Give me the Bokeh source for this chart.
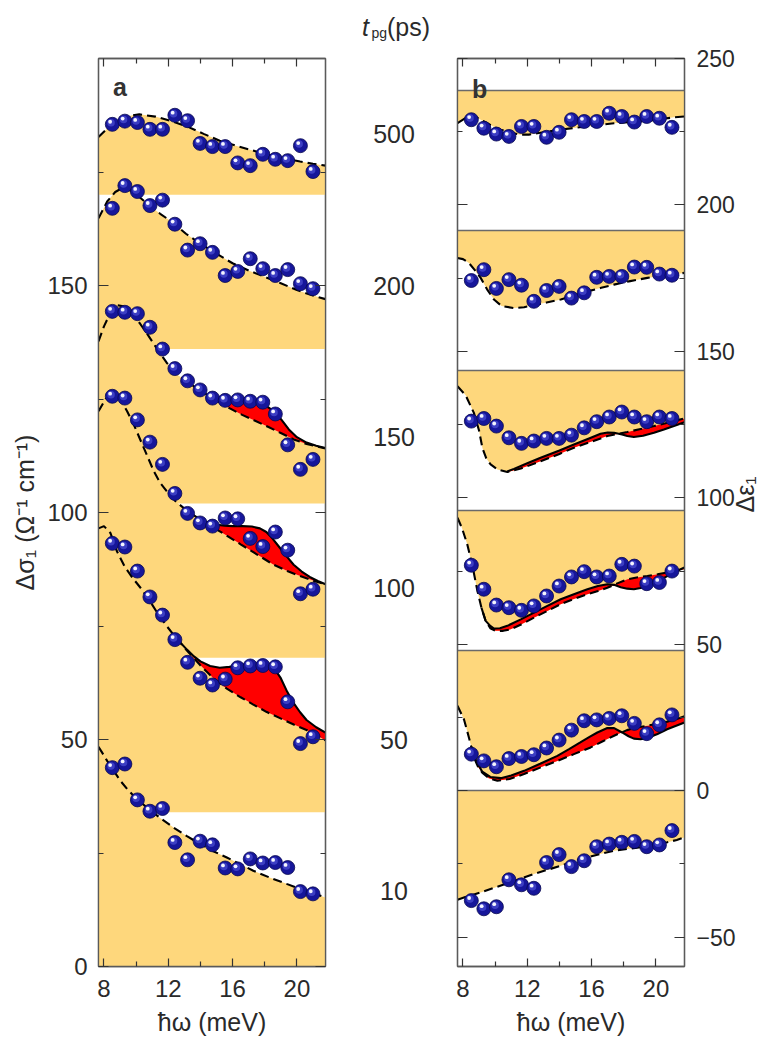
import math
import numpy as np
from bokeh.plotting import figure
from bokeh.models import Range1d, LinearAxis, FixedTicker
from bokeh.layouts import row, column
from bokeh.embed import file_html
from bokeh.resources import INLINE
from bokeh.core.properties import value

FONT = "Liberation Sans"
TEXT = "#2a2a2a"
FRAME = "#5a5a5a"
TICK = "#333333"
ORANGE = "#FED77C"
RED = "#FF0000"
BALL = "#16169a"

# ---------------------------------------------------------------- data
# photon energies of the measured THz spectra (meV)
energy = [8.52, 9.30, 10.08, 10.86, 11.64, 12.41, 13.20, 13.98, 14.75,
          15.54, 16.32, 17.10, 17.88, 18.66, 19.43, 20.22, 21.00]

# pump-gate delays t_pg (ps), top to bottom
delays = ["500", "200", "150", "100", "50", "10"]
delay_label_y = [183.3, 150.0, 116.7, 83.3, 50.0, 16.7]

# vertical offsets used to stack the spectra
sigma_offsets = [170, 136, 102, 68, 34, 0]
eps_offsets = [239.0, 191.2, 143.4, 95.6, 47.8, 0.0]

# measured change of the real conductivity, Delta sigma_1 (Ohm^-1 cm^-1)
sigma_500 = [15.5, 16.2, 15.9, 14.4, 14.4, 17.5, 16.3, 11.3, 10.6, 10.6, 7.0, 6.4, 8.9, 7.8, 7.5, 10.8, 5.1]
sigma_200 = [31.0, 36.0, 34.7, 31.6, 32.8, 27.5, 21.8, 23.2, 21.3, 16.2, 17.1, 19.9, 17.7, 16.2, 17.5, 14.4, 13.3]
sigma_150 = [42.3, 42.1, 41.8, 38.8, 34.0, 29.7, 27.0, 25.0, 23.2, 22.7, 22.8, 22.5, 22.3, 19.7, 12.9, 7.5, 9.7]
sigma_100 = [57.6, 57.2, 52.4, 47.5, 42.6, 36.2, 31.8, 29.7, 29.0, 30.8, 30.6, 26.3, 24.5, 27.7, 23.7, 14.1, 15.1]
sigma_50 = [59.2, 58.4, 53.1, 47.4, 43.4, 38.0, 33.0, 29.5, 28.0, 29.3, 31.8, 32.2, 32.3, 32.0, 24.3, 15.1, 16.6]
sigma_10 = [43.8, 44.6, 36.7, 34.2, 34.8, 27.3, 23.5, 27.6, 26.8, 21.7, 21.5, 23.7, 22.8, 22.9, 21.8, 16.5, 16.0]

# measured change of the real permittivity, Delta epsilon_1
eps_500 = [-9.9, -12.8, -14.8, -15.6, -12.2, -12.2, -15.9, -14.2, -9.9, -10.5, -10.5, -7.7, -8.8, -10.7, -8.8, -9.4, -12.5]
eps_200 = [-17.0, -13.3, -19.7, -16.7, -18.6, -24.1, -20.4, -19.0, -23.0, -21.2, -15.9, -15.6, -15.6, -12.4, -12.5, -14.8, -15.2]
eps_150 = [-17.2, -16.3, -18.9, -22.9, -24.8, -24.0, -23.1, -23.1, -22.0, -19.5, -17.4, -15.8, -14.1, -15.8, -17.4, -15.8, -16.3]
eps_100 = [-18.6, -26.8, -32.2, -33.1, -34.0, -32.5, -29.1, -25.7, -22.6, -20.8, -22.6, -22.3, -18.3, -18.9, -24.9, -24.5, -20.6]
eps_50 = [-35.3, -37.6, -39.6, -36.8, -36.1, -35.5, -33.2, -30.5, -27.1, -23.9, -23.6, -23.1, -22.2, -24.8, -28.3, -25.3, -21.9]
eps_10 = [-37.5, -40.3, -39.6, -30.4, -32.1, -33.3, -24.5, -21.8, -25.9, -23.9, -19.1, -18.2, -17.6, -17.3, -19.1, -18.5, -13.6]

# Drude-type fits (dashed) of Delta sigma_1
sig_fit_x_500 = [7.66, 8.5, 9.3, 10.2, 11.2, 12.2, 13.2, 14.2, 15.2, 16.2, 17.2, 18.2, 19.2, 20.2, 21.0, 21.78]
sig_fit_500 = [12.7, 15.6, 17.2, 17.7, 17.2, 16.2, 15.0, 13.4, 11.9, 10.8, 9.8, 8.8, 8.0, 7.3, 6.8, 6.4]
sig_fit_x_200 = [7.66, 8.2, 8.7, 9.1, 9.6, 10.2, 10.8, 11.5, 12.3, 13.1, 14.0, 15.0, 16.0, 17.0, 18.0, 19.0, 20.0, 21.0, 21.78]
sig_fit_200 = [28.8, 32.5, 34.6, 35.4, 35.0, 33.5, 31.7, 29.8, 27.8, 25.4, 23.2, 21.0, 18.9, 17.3, 15.9, 14.5, 13.0, 11.8, 11.0]
sig_fit_x_150 = [7.66, 8.0, 8.4, 8.8, 9.2, 9.7, 10.2, 10.7, 11.2, 11.9, 12.6, 13.4, 14.2, 15.0, 15.8, 16.6, 17.4, 18.2, 19.0, 19.8, 20.6, 21.78]
sig_fit_150 = [35.7, 39.0, 42.0, 43.7, 43.4, 42.0, 39.8, 37.3, 34.6, 31.0, 28.3, 26.2, 24.4, 22.7, 21.0, 19.5, 18.2, 16.9, 15.5, 14.1, 13.1, 12.1]
sig_fit_x_100 = [7.66, 8.1, 8.6, 9.0, 9.44, 9.9, 10.3, 10.7, 11.1, 11.5, 11.9, 12.5, 13.2, 14.0, 14.8, 15.6, 16.5, 17.5, 18.5, 19.4, 20.2, 21.0, 21.78]
sig_fit_100 = [54.3, 57.0, 58.0, 57.0, 54.3, 51.0, 47.7, 44.4, 41.1, 38.5, 36.7, 34.3, 32.3, 30.4, 28.7, 27.0, 25.0, 22.8, 20.6, 19.1, 18.0, 17.0, 16.2]
sig_fit_x_50 = [7.66, 8.0, 8.4, 8.8, 9.3, 9.8, 10.3, 10.8, 11.3, 11.9, 12.5, 13.16, 13.98, 14.8, 15.64, 16.5, 17.29, 18.1, 18.95, 19.8, 20.6, 21.2, 21.78]
sig_fit_50 = [62.5, 63.0, 61.5, 57.5, 54.0, 51.5, 49.3, 46.8, 44.0, 41.0, 38.3, 35.6, 32.4, 29.5, 27.2, 25.3, 23.7, 22.1, 20.7, 19.3, 18.1, 17.0, 15.8]
sig_fit_x_10 = [7.66, 8.2, 8.61, 9.0, 9.44, 10.0, 10.68, 11.5, 12.33, 13.16, 13.98, 14.8, 15.64, 16.5, 17.29, 18.3, 19.36, 20.5, 21.78]
sig_fit_10 = [48.4, 45.3, 43.1, 41.0, 39.1, 37.0, 35.0, 32.7, 30.6, 28.7, 27.0, 25.4, 24.0, 22.5, 21.1, 19.6, 18.2, 16.7, 15.2]

# fits including the phonon-polariton resonance (solid)
sig_ph_x_150 = [15.0, 15.4, 16.0, 16.6, 17.2, 17.8, 18.2, 18.6, 19.0, 19.5, 20.0, 20.6, 21.2, 21.78]
sig_ph_150 = [22.7, 22.8, 22.6, 22.5, 22.2, 21.8, 21.2, 20.2, 18.6, 16.3, 14.6, 13.4, 12.7, 12.2]
sig_ph_x_100 = [14.0, 14.5, 15.0, 15.5, 16.0, 16.6, 17.2, 17.7, 18.1, 18.5, 18.9, 19.3, 19.8, 20.3, 20.8, 21.3, 21.78]
sig_ph_100 = [30.4, 29.8, 29.3, 29.1, 29.0, 29.0, 28.9, 28.5, 27.7, 26.2, 24.4, 22.6, 20.5, 19.0, 17.8, 16.9, 16.2]
sig_ph_x_50 = [12.5, 13.16, 13.6, 14.0, 14.6, 15.2, 15.8, 16.4, 17.0, 17.6, 18.2, 18.6, 19.0, 19.4, 19.8, 20.2, 20.6, 21.2, 21.78]
sig_ph_50 = [38.3, 35.8, 34.3, 33.2, 32.2, 31.8, 32.0, 32.3, 32.6, 32.7, 32.5, 31.6, 29.5, 26.5, 24.0, 22.0, 20.3, 18.7, 17.5]

# Drude-type fits (dashed) of Delta epsilon_1
eps_fit_x_500 = [7.66, 8.1, 8.48, 8.9, 9.31, 9.8, 10.34, 11.0, 11.59, 12.1, 12.63, 13.3, 14.08, 14.9, 15.74, 16.6, 17.39, 18.4, 19.47, 20.3, 21.12, 21.78]
eps_fit_500 = [-11.1, -9.5, -8.8, -9.3, -10.5, -12.0, -13.3, -14.4, -15.0, -15.0, -14.5, -13.9, -13.3, -12.7, -12.2, -11.6, -11.1, -10.7, -10.3, -9.7, -9.1, -8.8]
eps_fit_x_200 = [7.66, 8.0, 8.37, 8.7, 9.1, 9.5, 9.93, 10.4, 11.17, 11.8, 12.42, 13.2, 14.08, 14.9, 15.74, 16.6, 17.39, 18.4, 19.47, 20.6, 21.78]
eps_fit_200 = [-9.3, -9.7, -11.0, -13.2, -16.1, -20.0, -23.5, -25.7, -26.4, -26.1, -25.4, -24.5, -23.5, -22.1, -20.7, -19.5, -18.4, -17.2, -16.1, -15.2, -14.4]
eps_fit_x_150 = [7.66, 8.17, 8.68, 9.0, 9.21, 9.45, 9.72, 10.14, 10.76, 11.6, 12.83, 14.0, 14.9, 16.0, 16.98, 18.22, 19.05, 19.88, 21.12, 21.78]
eps_fit_150 = [-5.3, -8.4, -14.4, -20.4, -26.4, -29.9, -32.0, -33.7, -34.6, -33.4, -30.9, -28.4, -26.3, -24.2, -22.3, -20.9, -19.9, -18.9, -17.2, -16.3]
eps_fit_x_100 = [7.66, 7.95, 8.27, 8.6, 8.9, 9.15, 9.41, 9.7, 10.03, 10.5, 10.97, 11.7, 12.42, 13.25, 14.08, 14.9, 15.74, 16.4, 16.98, 17.6, 18.22, 18.8, 19.47, 20.1, 20.71, 21.78]
eps_fit_100 = [-2.4, -6.1, -11.5, -19.1, -27.4, -33.1, -37.6, -40.1, -41.0, -41.0, -40.5, -38.6, -36.5, -34.2, -31.9, -30.1, -28.5, -27.4, -26.3, -24.8, -23.4, -22.8, -22.3, -21.7, -21.1, -20.0]
eps_fit_x_50 = [7.66, 8.06, 8.37, 8.68, 8.95, 9.2, 9.6, 10.14, 10.9, 11.8, 12.8, 13.87, 14.9, 15.94, 16.7, 17.4, 18.2, 18.8, 19.47, 20.1, 20.71, 21.3, 21.78]
eps_fit_50 = [-18.8, -23.4, -29.6, -36.4, -39.8, -41.6, -43.5, -44.4, -43.8, -42.1, -39.9, -37.6, -35.3, -33.0, -30.9, -29.0, -27.1, -26.2, -25.6, -24.9, -24.2, -23.3, -22.4]
eps_fit_x_10 = [7.66, 8.2, 9.1, 10.0, 10.76, 11.6, 12.42, 13.25, 14.08, 14.9, 15.74, 16.6, 17.39, 18.2, 19.05, 19.9, 20.71, 21.3, 21.78]
eps_fit_10 = [-37.2, -36.2, -34.7, -33.0, -31.6, -30.0, -28.4, -27.0, -25.6, -24.1, -22.7, -21.5, -20.5, -19.9, -19.3, -18.5, -17.6, -16.8, -15.9]

eps_ph_x_150 = [10.76, 11.17, 12.0, 12.83, 14.0, 14.9, 15.8, 16.56, 17.0, 17.4, 17.9, 18.22, 18.63, 19.2, 19.88, 20.5, 21.12, 21.78]
eps_ph_150 = [-34.4, -33.5, -31.6, -29.7, -27.2, -25.2, -23.2, -21.5, -21.1, -21.2, -21.8, -22.3, -22.6, -22.2, -21.2, -20.1, -18.9, -17.6]
eps_ph_x_100 = [9.15, 9.41, 9.7, 9.93, 10.3, 10.76, 11.6, 12.42, 13.25, 14.08, 14.9, 15.74, 16.4, 16.98, 17.4, 17.81, 18.22, 18.63, 19.05, 19.47, 20.1, 20.71, 21.2, 21.78]
eps_ph_100 = [-33.1, -37.6, -39.3, -40.2, -40.1, -39.3, -37.1, -34.8, -32.5, -30.2, -28.5, -26.8, -25.7, -25.1, -25.3, -26.1, -26.6, -26.8, -26.4, -25.7, -24.1, -22.3, -20.8, -19.4]
eps_ph_x_50 = [8.55, 8.8, 9.2, 9.7, 10.35, 11.0, 11.8, 12.8, 13.87, 14.6, 15.3, 15.9, 16.36, 16.98, 17.4, 17.9, 18.3, 18.63, 19.05, 19.47, 20.1, 20.7, 21.3, 21.78]
eps_ph_50 = [-32.8, -37.3, -41.3, -43.1, -43.5, -42.6, -41.0, -38.6, -35.9, -33.6, -31.3, -29.3, -27.9, -26.4, -26.4, -27.9, -29.2, -30.0, -30.2, -29.8, -28.4, -26.8, -25.5, -24.5]

energy_ticks = [8, 12, 16, 20]
energy_minor = [10, 14, 18]
sigma_ticks = [0, 50, 100, 150]
sigma_minor = [25, 75, 125, 175]
eps_ticks = [-50, 0, 50, 100, 150, 200, 250]
eps_minor = [-25, 25, 75, 125, 175, 225]

X_RANGE = (7.66, 21.78)
FRAME_W, FRAME_H = 227, 908
BORDER_TOP, BORDER_BOTTOM = 58, 71
PAGE_H = BORDER_TOP + FRAME_H + BORDER_BOTTOM
SIGMA_PER_PX = 200 / FRAME_H


# ---------------------------------------------------------------- helpers
def make_axis(ticks, minor, major_in, minor_in, labelled, label=None, size="24px"):
    ax = LinearAxis(ticker=FixedTicker(ticks=ticks, minor_ticks=minor))
    ax.major_tick_in = major_in
    ax.major_tick_out = 0
    ax.minor_tick_in = minor_in
    ax.minor_tick_out = 0
    ax.axis_line_color = FRAME
    ax.axis_line_width = 1.3
    ax.major_tick_line_color = TICK
    ax.minor_tick_line_color = TICK
    ax.major_tick_line_width = 1.2
    ax.minor_tick_line_width = 1.2
    ax.major_label_text_font = FONT
    ax.major_label_text_font_size = size
    ax.major_label_text_color = TEXT
    if not labelled:
        ax.major_label_overrides = {t: "" for t in ticks}
        ax.major_label_standoff = 0
    if label is not None:
        ax.axis_label = label
        ax.axis_label_text_font = FONT
        ax.axis_label_text_font_size = "25px"
        ax.axis_label_text_font_style = "normal"
        ax.axis_label_text_color = TEXT
    return ax


def base_figure(y_range, left, right):
    p = figure(frame_width=FRAME_W, frame_height=FRAME_H,
               x_range=Range1d(*X_RANGE), y_range=Range1d(*y_range),
               x_axis_location=None, y_axis_location=None,
               output_backend="svg", toolbar_location=None,
               min_border_left=left, min_border_right=right,
               min_border_top=BORDER_TOP, min_border_bottom=BORDER_BOTTOM)
    p.outline_line_color = FRAME
    p.outline_line_width = 1.3
    p.background_fill_color = "white"
    p.border_fill_color = "white"
    for g in p.grid:
        g.visible = False
    return p


def spheres(p, x, y, px_x, px_y):
    x = np.asarray(x, dtype=float)
    y = np.asarray(y, dtype=float)
    p.scatter(x, y, size=14, fill_color=BALL, line_color="#08084f", line_width=0.8)
    p.scatter(x - 1.3 * px_x, y + 1.6 * px_y, size=7.5, fill_color="#5d60e6",
              fill_alpha=0.55, line_color=None)
    p.scatter(x - 2.2 * px_x, y + 2.6 * px_y, size=3.8, fill_color="#f4f5ff", line_color=None)


def draw_stack(p, offsets, points, fits, phonons, px_x, px_y, baselines=False):
    # shaded bands between each offset level and its fit
    for off, (fx, fy) in zip(offsets, fits):
        fy = np.asarray(fy, dtype=float) + off
        p.varea(x=fx, y1=np.full_like(fy, off), y2=fy, fill_color=ORANGE)
    # red area between the two fits
    for off, (fx, fy), ph in zip(offsets, fits, phonons):
        if ph is None:
            continue
        fx = np.asarray(fx, dtype=float)
        fy = np.asarray(fy, dtype=float) + off
        sx = np.asarray(ph[0], dtype=float)
        sy = np.asarray(ph[1], dtype=float) + off
        m = (fx >= sx[0] - 1e-9) & (fx <= sx[-1] + 1e-9)
        xs = np.concatenate([sx, fx[m][::-1]])
        ys = np.concatenate([sy, fy[m][::-1]])
        p.patch(xs, ys, fill_color=RED, line_color=None)
    if baselines:
        p.hspan(y=offsets, line_color="#6a6a6a", line_width=1.3)
    for off, (fx, fy) in zip(offsets, fits):
        p.line(fx, np.asarray(fy, dtype=float) + off, line_color="black",
               line_width=2.1, line_dash="9 5")
    for off, ph in zip(offsets, phonons):
        if ph is None:
            continue
        p.line(ph[0], np.asarray(ph[1], dtype=float) + off, line_color="black", line_width=2.1)
    for off, pts in zip(offsets, points):
        spheres(p, energy, np.asarray(pts, dtype=float) + off, px_x, px_y)


# ---------------------------------------------------------------- panel a
pa = base_figure((0, 200), left=98, right=15)
bottom_a = make_axis(energy_ticks, energy_minor, 8, 5, True, "ħω (meV)")
bottom_a.major_label_standoff = 13
bottom_a.axis_label_standoff = 8
pa.add_layout(bottom_a, "below")
pa.add_layout(make_axis(energy_ticks, energy_minor, 8, 5, False), "above")
left_ax = make_axis(sigma_ticks, sigma_minor, 10, 5, True, "Δσ₁ (Ω⁻¹ cm⁻¹)")
left_ax.major_label_standoff = 11
left_ax.axis_label_standoff = 5
pa.add_layout(left_ax, "left")
pa.add_layout(make_axis(sigma_ticks, sigma_minor, 10, 5, False), "right")

sx = (X_RANGE[1] - X_RANGE[0]) / FRAME_W
draw_stack(
    pa, sigma_offsets,
    [sigma_500, sigma_200, sigma_150, sigma_100, sigma_50, sigma_10],
    [(sig_fit_x_500, sig_fit_500), (sig_fit_x_200, sig_fit_200), (sig_fit_x_150, sig_fit_150),
     (sig_fit_x_100, sig_fit_100), (sig_fit_x_50, sig_fit_50), (sig_fit_x_10, sig_fit_10)],
    [None, None, (sig_ph_x_150, sig_ph_150), (sig_ph_x_100, sig_ph_100), (sig_ph_x_50, sig_ph_50), None],
    sx, SIGMA_PER_PX)
pa.text(x=[9.0], y=[193.8], text=["a"], text_font=value(FONT), text_font_style="bold",
        text_font_size="25px", text_color="#333333", text_align="center",
        text_baseline="alphabetic")

# ---------------------------------------------------------------- delay column
# borderless full-height canvas on the same vertical scale as panel a,
# so the heading above the panels is inside its drawing area
pm = figure(frame_width=100, frame_height=PAGE_H, x_range=Range1d(0, 100),
            y_range=Range1d(-BORDER_BOTTOM * SIGMA_PER_PX, 200 + BORDER_TOP * SIGMA_PER_PX),
            x_axis_location=None, y_axis_location=None, title=None,
            output_backend="svg", toolbar_location=None,
            min_border_left=0, min_border_right=0, min_border_top=0, min_border_bottom=0)
pm.outline_line_color = None
for g in pm.grid:
    g.visible = False
pm.text(x=[53.5] * len(delays), y=delay_label_y, text=delays, text_font=value(FONT),
        text_font_size="25px", text_color=TEXT, text_align="center", text_baseline="middle")
pm.text(x=[21.5], y=[207.0], text=["t"], text_font=value(FONT), text_font_style="italic",
        text_font_size="25px", text_color=TEXT, text_baseline="alphabetic")
pm.text(x=[31.0], y=[205.7], text=["pg"], text_font=value(FONT),
        text_font_size="14px", text_color=TEXT, text_baseline="alphabetic")
pm.text(x=[46.5], y=[207.0], text=["(ps)"], text_font=value(FONT),
        text_font_size="25px", text_color=TEXT, text_baseline="alphabetic")

# ---------------------------------------------------------------- panel b
pb = base_figure((-60, 250), left=17, right=84)
bottom_b = make_axis(energy_ticks, energy_minor, 8, 5, True, "ħω (meV)")
bottom_b.major_label_standoff = 13
bottom_b.axis_label_standoff = 8
pb.add_layout(bottom_b, "below")
pb.add_layout(make_axis(energy_ticks, energy_minor, 8, 5, False), "above")
pb.add_layout(make_axis(eps_ticks, eps_minor, 10, 5, False), "left")
right_ax = make_axis(eps_ticks, eps_minor, 10, 5, True, "Δε₁", size="23px")
right_ax.major_label_standoff = 12
right_ax.axis_label_standoff = 6
right_ax.axis_label_orientation = math.pi / 2
pb.add_layout(right_ax, "right")

draw_stack(
    pb, eps_offsets,
    [eps_500, eps_200, eps_150, eps_100, eps_50, eps_10],
    [(eps_fit_x_500, eps_fit_500), (eps_fit_x_200, eps_fit_200), (eps_fit_x_150, eps_fit_150),
     (eps_fit_x_100, eps_fit_100), (eps_fit_x_50, eps_fit_50), (eps_fit_x_10, eps_fit_10)],
    [None, None, (eps_ph_x_150, eps_ph_150), (eps_ph_x_100, eps_ph_100), (eps_ph_x_50, eps_ph_50), None],
    sx, 310 / FRAME_H, baselines=True)
pb.text(x=[9.04], y=[239.7], text=["b"], text_font=value(FONT), text_font_style="bold",
        text_font_size="25px", text_color="#333333", text_align="center",
        text_baseline="alphabetic")

layout = row(pa, column(pm), pb)
open("out.html", "w").write(file_html(layout, INLINE))
